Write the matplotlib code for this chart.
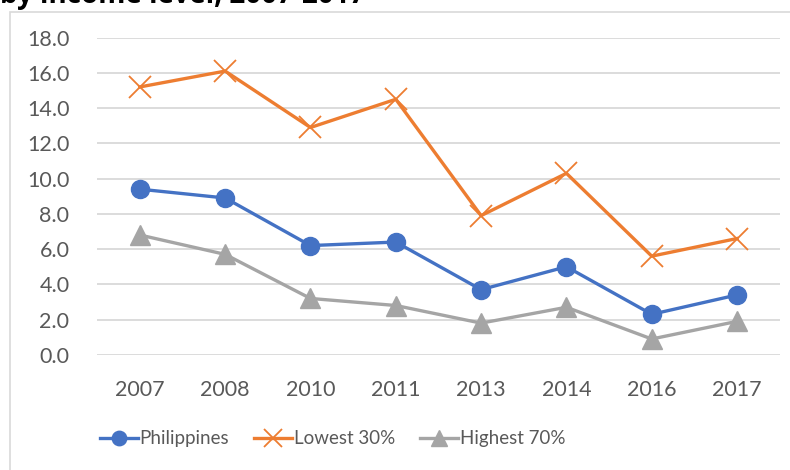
import numpy as np
import matplotlib
matplotlib.use("Agg")
from matplotlib import pyplot as plt
from matplotlib.patches import Rectangle

years = ["2007", "2008", "2010", "2011", "2013", "2014", "2016", "2017"]
philippines = [9.4, 8.9, 6.2, 6.4, 3.7, 5.0, 2.3, 3.4]
lowest_30 = [15.2, 16.1, 12.9, 14.5, 7.9, 10.3, 5.6, 6.6]
highest_70 = [6.8, 5.7, 3.2, 2.8, 1.8, 2.7, 0.9, 1.9]
yticks = np.arange(0, 18.1, 2.0)

plt.rcParams['font.family'] = ['Lato', 'DejaVu Sans']

fig = plt.figure(figsize=(7.9, 4.7), dpi=100)
ax = fig.add_axes([0.123, 0.245, 0.864, 0.675])

x = np.arange(len(years))
ax.plot(x, philippines, color='#4472C4', lw=2.4, marker='o', ms=13,
        label='Philippines', zorder=3)
ax.plot(x, lowest_30, color='#ED7D31', lw=2.4, marker='x', ms=16, mew=1.3,
        label='Lowest 30%', zorder=3)
ax.plot(x, highest_70, color='#A5A5A5', lw=2.4, marker='^', ms=15,
        label='Highest 70%', zorder=3)

ax.set_xlim(-0.5, len(years) - 0.5)
ax.set_ylim(0, 18)
ax.set_xticks(x)
ax.set_xticklabels(years)
ax.set_yticks(yticks)
ax.set_yticklabels(["%.1f" % v for v in yticks])
ax.tick_params(length=0, labelsize=15.5, labelcolor='#595959')
ax.tick_params(axis='x', pad=18)
ax.tick_params(axis='y', pad=20)
ax.grid(axis='y', color='#D9D9D9', lw=1.3)
ax.set_axisbelow(True)
for s in ax.spines.values():
    s.set_visible(False)

leg = ax.legend(loc='upper center', bbox_to_anchor=(0.345, -0.185), ncol=3,
                frameon=False, fontsize=13.5, handlelength=2.0, markerscale=0.8,
                handletextpad=0.1, columnspacing=1.35, labelcolor='#595959')

# chart border, partly off the canvas
fig.patches.append(Rectangle((10 / 790, -0.05), 1.2, 1 - 12 / 470 + 0.05,
                             transform=fig.transFigure, fill=False,
                             edgecolor='#D9D9D9', lw=1.2))

# title sits mostly above the visible area, as in the source crop
fig.text(0.0, 1 - 3 / 470, "by income level, 2007-2017", fontsize=20,
         fontweight='bold', family=['Open Sans', 'DejaVu Sans'],
         va='baseline', ha='left')

fig.savefig("out.png", dpi=100)
